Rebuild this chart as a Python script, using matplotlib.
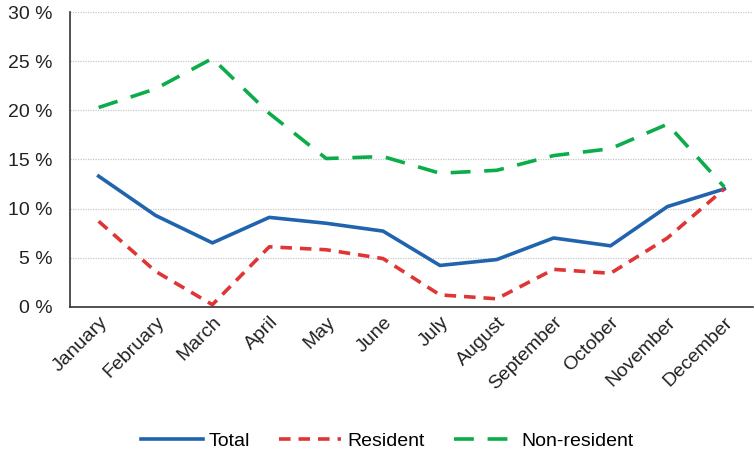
import numpy as np
import matplotlib.pyplot as plt
from matplotlib.ticker import FuncFormatter

plt.rcParams['font.family'] = ['Liberation Sans', 'DejaVu Sans']

months = ['January', 'February', 'March', 'April', 'May', 'June', 'July',
          'August', 'September', 'October', 'November', 'December']
total = [13.3, 9.3, 6.5, 9.1, 8.5, 7.7, 4.2, 4.8, 7.0, 6.2, 10.2, 12.0]
resident = [8.7, 3.6, 0.2, 6.1, 5.8, 4.9, 1.2, 0.8, 3.8, 3.4, 7.0, 12.0]
non_resident = [20.3, 22.2, 25.3, 19.7, 15.1, 15.3, 13.6, 13.9, 15.4, 16.1, 18.6, 12.2]

fig = plt.figure(figsize=(7.55, 4.57), dpi=100)
ax = fig.add_axes([0.093, 0.329, 0.904, 0.644])

x = np.arange(len(months))
ax.plot(x, total, color='#1f64ad', lw=2.6, label='Total')
ax.plot(x, resident, color='#e03535', lw=2.6, dashes=(3.2, 2.2), label='Resident')
ax.plot(x, non_resident, color='#0aad4a', lw=2.6, dashes=(5.5, 3.8), label='Non-resident')

ax.set_xlim(-0.5, 11.5)
ax.set_ylim(0, 30)
ax.set_yticks(range(0, 31, 5))
ax.yaxis.set_major_formatter(FuncFormatter(lambda v, p: '%d %%' % v))
ax.set_xticks(x)
ax.set_xticklabels(months, rotation=45, ha='right', rotation_mode='anchor')
ax.tick_params(axis='both', length=0, labelsize=14, colors='#222222')
ax.tick_params(axis='y', pad=13)
ax.tick_params(axis='x', pad=5)
ax.grid(axis='y', color='#c8c8c8', lw=0.9, ls=(0, (1, 1)))
ax.set_axisbelow(True)
for s in ['top', 'right']:
    ax.spines[s].set_visible(False)
for s in ['left', 'bottom']:
    ax.spines[s].set_color('#333333')
    ax.spines[s].set_linewidth(1.2)

fig.legend(loc='center', bbox_to_anchor=(0.513, 0.035), ncol=3, frameon=False,
           fontsize=14, handlelength=3.2, columnspacing=1.5, handletextpad=0.3)

fig.savefig('out.png', dpi=100)
